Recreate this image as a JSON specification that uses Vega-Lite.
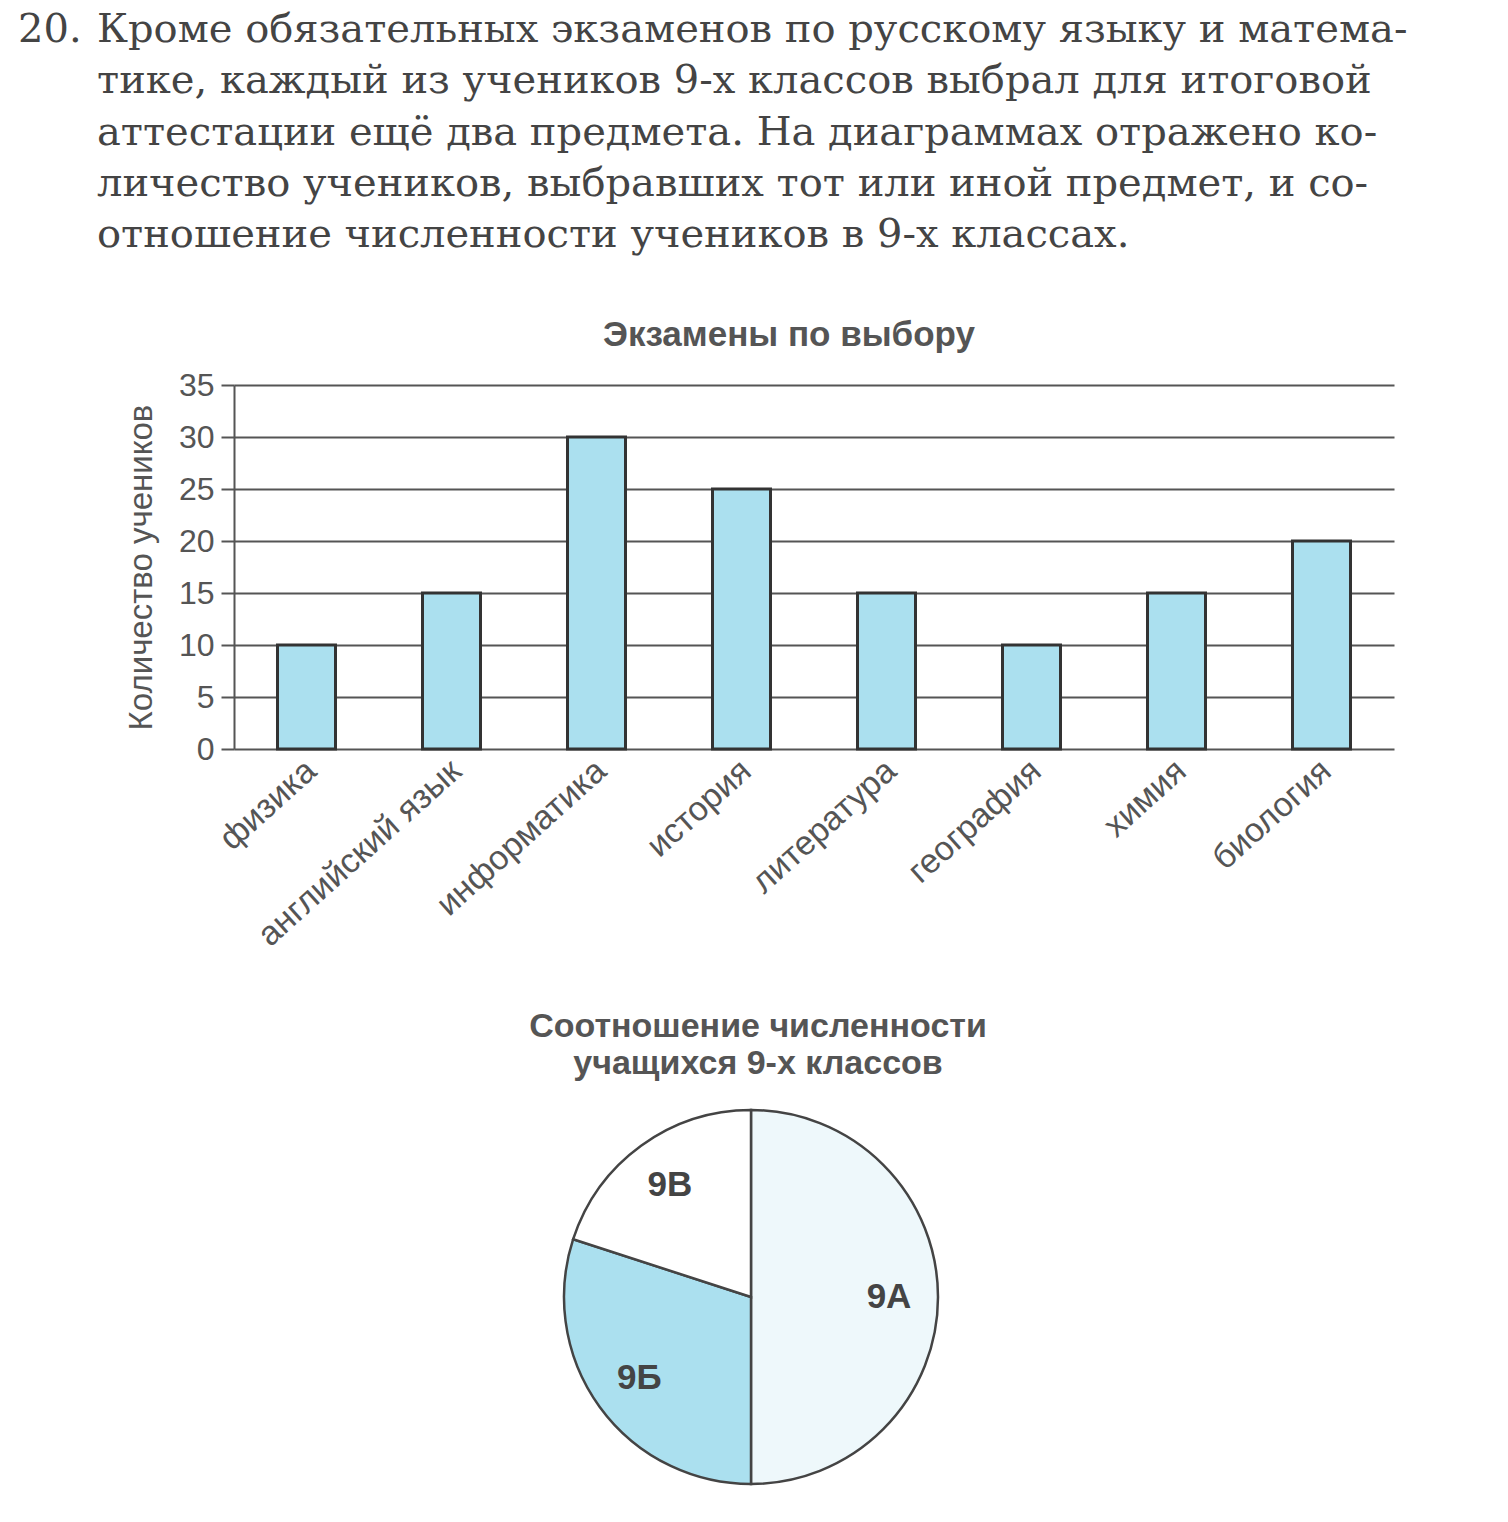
{
  "$schema": "https://vega.github.io/schema/vega-lite/v6.json",
  "background": "white",
  "padding": 0,
  "spacing": 57,
  "config": {"view": {"stroke": null}, "font": "Liberation Sans"},
  "vconcat": [
    {
      "width": 1508,
      "height": 261,
      "data": {"values": [
        {"line": 1, "col": "num", "text": "20."},
        {"line": 1, "col": "body", "text": "Кроме обязательных экзаменов по русскому языку и матема-"},
        {"line": 2, "col": "body", "text": "тике, каждый из учеников 9-х классов выбрал для итоговой"},
        {"line": 3, "col": "body", "text": "аттестации ещё два предмета. На диаграммах отражено ко-"},
        {"line": 4, "col": "body", "text": "личество учеников, выбравших тот или иной предмет, и со-"},
        {"line": 5, "col": "body", "text": "отношение численности учеников в 9-х классах."}
      ]},
      "mark": {"type": "text", "font": "DejaVu Serif", "fontSize": 40, "align": "left", "baseline": "alphabetic", "color": "#444"},
      "encoding": {
        "x": {"field": "col", "type": "ordinal", "scale": {"type": "point", "domain": ["num", "body"], "range": [18, 97], "padding": 0}, "axis": null},
        "y": {"field": "line", "type": "quantitative", "scale": {"domain": [1, 5], "range": [42, 247]}, "axis": null},
        "text": {"field": "text"}
      }
    },
    {
      "spacing": 0,
      "hconcat": [
        {"width": 125, "height": 10, "data": {"values": []}, "mark": "point"},
        {
          "width": 1160,
          "height": 364,
          "title": {"text": "Экзамены по выбору", "font": "Liberation Sans", "fontSize": 35, "fontWeight": "bold", "color": "#555", "offset": 16, "frame": "group", "anchor": "middle", "dx": -25},
          "data": {"values": [
            {"subject": "физика", "count": 10},
            {"subject": "английский язык", "count": 15},
            {"subject": "информатика", "count": 30},
            {"subject": "история", "count": 25},
            {"subject": "литература", "count": 15},
            {"subject": "география", "count": 10},
            {"subject": "химия", "count": 15},
            {"subject": "биология", "count": 20}
          ]},
          "mark": {"type": "bar", "fill": "#abe0ef", "stroke": "#333", "strokeWidth": 3},
          "encoding": {
            "x": {"field": "subject", "type": "nominal", "sort": null,
              "scale": {"paddingInner": 0.6, "paddingOuter": 0.3},
              "axis": {"title": null, "labelAngle": -42, "labelAlign": "right", "labelBaseline": "middle", "labelFont": "Liberation Sans", "labelFontSize": 34, "labelColor": "#555", "labelPadding": 17, "labelOffset": 5, "labelLimit": 500, "ticks": false, "domain": false, "grid": false}},
            "y": {"field": "count", "type": "quantitative",
              "scale": {"domain": [0, 35], "nice": false},
              "axis": {"values": [0, 5, 10, 15, 20, 25, 30, 35], "grid": true, "gridColor": "#555", "gridWidth": 2, "gridOpacity": 1, "domainColor": "#555", "domainWidth": 2, "tickColor": "#555", "tickWidth": 2, "tickSize": 13, "labelFont": "Liberation Sans", "labelFontSize": 32, "labelColor": "#555", "labelPadding": 7, "title": "Количество учеников", "titleFont": "Liberation Sans", "titleFontSize": 33, "titleFontWeight": "normal", "titleColor": "#555", "titlePadding": 20}}
          }
        }
      ]
    },
    {
      "spacing": 0,
      "hconcat": [
        {"width": 529, "height": 10, "data": {"values": []}, "mark": "point"},
        {
          "width": 374,
          "height": 374,
          "title": {"text": ["Соотношение численности", "учащихся 9-х классов"], "font": "Liberation Sans", "fontSize": 34, "fontWeight": "bold", "color": "#555", "lineHeight": 37, "offset": 24, "frame": "group", "anchor": "middle", "dx": 7},
          "data": {"values": [
            {"class": "9А", "share": 50},
            {"class": "9Б", "share": 30},
            {"class": "9В", "share": 20}
          ]},
          "encoding": {
            "theta": {"field": "share", "type": "quantitative", "stack": true},
            "order": {"field": "class", "type": "ordinal"}
          },
          "layer": [
            {"mark": {"type": "arc", "stroke": "#444", "strokeWidth": 2.5},
             "encoding": {"color": {"field": "class", "type": "nominal", "scale": {"domain": ["9А", "9Б", "9В"], "range": ["#eef8fb", "#abe0ef", "#ffffff"]}, "legend": null}}},
            {"mark": {"type": "text", "radius": 138, "font": "Liberation Sans", "fontSize": 35, "fontWeight": "bold", "color": "#444"},
             "encoding": {"text": {"field": "class"}}}
          ]
        }
      ]
    }
  ]
}
